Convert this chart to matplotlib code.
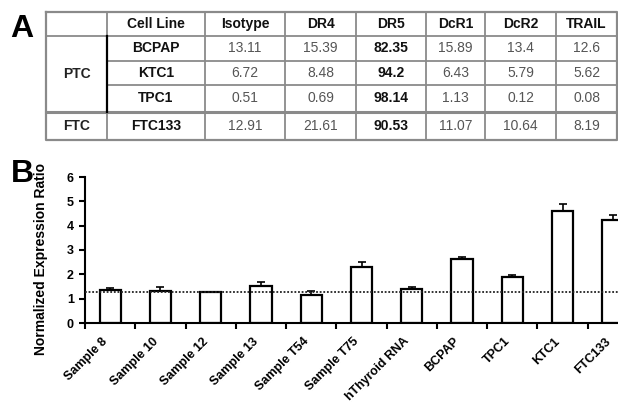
import matplotlib
matplotlib.use("Agg")
import matplotlib.pyplot as plt
import numpy as np

plt.rcParams['font.family'] = ['Liberation Sans', 'DejaVu Sans']

### Panel A: table data
header     = ["", "Cell Line", "Isotype", "DR4", "DR5", "DcR1", "DcR2", "TRAIL"]
groups     = ["PTC", "FTC"]
cell_lines = ["BCPAP", "KTC1", "TPC1", "FTC133"]
isotype    = [13.11, 6.72, 0.51, 12.91]
dr4        = [15.39, 8.48, 0.69, 21.61]
dr5        = [82.35, 94.2, 98.14, 90.53]
dcr1       = [15.89, 6.43, 1.13, 11.07]
dcr2       = [13.4, 5.79, 0.12, 10.64]
trail      = [12.6, 5.62, 0.08, 8.19]

### Panel B: bar data
samples  = ["Sample 8", "Sample 10", "Sample 12", "Sample 13", "Sample T54",
            "Sample T75", "hThyroid RNA", "BCPAP", "TPC1", "KTC1", "FTC133"]
ratio    = [1.36, 1.32, 1.29, 1.51, 1.16, 2.29, 1.41, 2.64, 1.88, 4.62, 4.24]
ratio_se = [0.07, 0.14, 0.0, 0.18, 0.14, 0.20, 0.05, 0.09, 0.08, 0.26, 0.21]
baseline = 1.29

W, H = 618, 403
fig = plt.figure(figsize=(W / 100, H / 100), dpi=100)

### Table drawn in pixel coordinates
ax_t = fig.add_axes([0, 0, 1, 1])
ax_t.set_xlim(0, W)
ax_t.set_ylim(H, 0)
ax_t.axis('off')

col_x = [46, 107, 205, 285, 356, 426, 485, 556, 617]
row_y = [12, 36, 61, 85, 112, 140]
grey  = '#8a8a8a'

# outer box + grid
ax_t.plot([col_x[0], col_x[-1], col_x[-1], col_x[0], col_x[0]],
          [row_y[0], row_y[0], row_y[-1], row_y[-1], row_y[0]],
          color=grey, lw=1.6)
ax_t.plot([col_x[0], col_x[-1]], [row_y[1]] * 2, color=grey, lw=1.3)
ax_t.plot([col_x[0], col_x[-1]], [row_y[4]] * 2, color=grey, lw=2.2)
for y in row_y[2:4]:
	ax_t.plot([col_x[1], col_x[-1]], [y, y], color=grey, lw=1.3)
for x in col_x[1:-1]:
	ax_t.plot([x, x], [row_y[0], row_y[-1]], color=grey, lw=1.3)
ax_t.plot([col_x[1], col_x[1]], [row_y[1], row_y[4]], color='black', lw=1.6)

col_c = [(a + b) / 2 for a, b in zip(col_x[:-1], col_x[1:])]
row_c = [(a + b) / 2 for a, b in zip(row_y[:-1], row_y[1:])]
fs = 10

for j, h in enumerate(header):
	ax_t.text(col_c[j], row_c[0], h, ha='center', va='center',
	          fontsize=fs, fontweight='bold', color='#111111')

ax_t.text(col_c[0], (row_y[1] + row_y[4]) / 2, groups[0], ha='center',
          va='center', fontsize=fs, fontweight='bold', color='#222222')
ax_t.text(col_c[0], row_c[4], groups[1], ha='center', va='center',
          fontsize=fs, fontweight='bold', color='#222222')

columns = [isotype, dr4, dr5, dcr1, dcr2, trail]
for i, name in enumerate(cell_lines):
	ax_t.text(col_c[1], row_c[i + 1], name, ha='center', va='center',
	          fontsize=fs, fontweight='bold', color='#111111')
	for k, col in enumerate(columns):
		bold = (k == 2)
		ax_t.text(col_c[k + 2], row_c[i + 1], str(col[i]), ha='center',
		          va='center', fontsize=fs,
		          fontweight='bold' if bold else 'normal',
		          color='#111111' if bold else '#555555')

### Panel letters
fig.text(10 / W, 1 - 37 / H, "A", fontsize=23, fontweight='bold', va='baseline')
fig.text(11 / W, 1 - 182 / H, "B", fontsize=23, fontweight='bold', va='baseline')

### Bar chart
ax = fig.add_axes([85 / W, 1 - 323 / H, 553 / W, 146 / H])
pos = np.arange(len(samples)) + 0.5
ax.bar(pos, ratio, width=0.42, color='white', edgecolor='black',
       linewidth=1.6, zorder=2)
ax.errorbar(pos, ratio, yerr=[np.zeros(len(ratio)), ratio_se], fmt='none',
            ecolor='black', elinewidth=1.2, capsize=3, capthick=1.2, zorder=3)
ax.axhline(baseline, color='#222222', lw=1.3, ls=(0, (1.0, 1.0)), zorder=4)

ax.set_xlim(0, len(samples))
ax.set_ylim(0, 6)
ax.spines['top'].set_visible(False)
ax.spines['right'].set_visible(False)
ax.spines['left'].set_linewidth(1.5)
ax.spines['bottom'].set_linewidth(1.5)

ax.set_yticks(range(0, 7))
ax.tick_params(axis='y', length=4, width=1.5, labelsize=9, pad=4)
for lab in ax.get_yticklabels():
	lab.set_fontweight('bold')

ax.set_xticks(np.arange(0, len(samples)))
ax.set_xticklabels([])
ax.tick_params(axis='x', which='major', length=4, width=1.5)
ax.set_xticks(pos, minor=True)
ax.set_xticklabels(samples, minor=True, rotation=45, ha='right', va='top',
                   fontsize=9, fontweight='bold')
ax.tick_params(axis='x', which='minor', length=0, pad=9)

fig.text(41 / W, 1 - 259 / H, "Normalized Expression Ratio", rotation=90,
         ha='center', va='center', fontsize=10, fontweight='bold')

fig.savefig("out.png", dpi=100)
